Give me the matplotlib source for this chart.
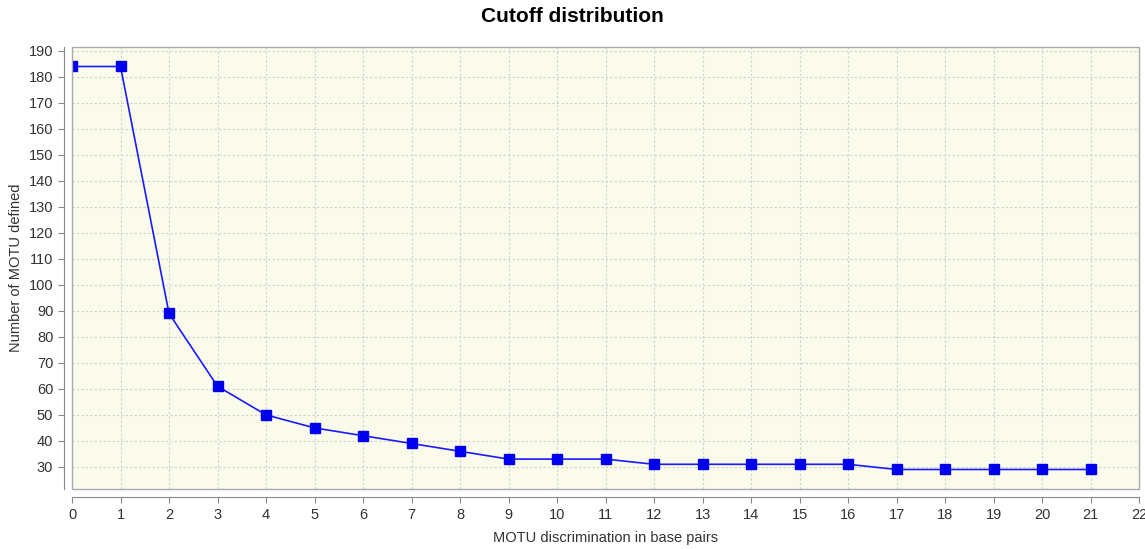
import matplotlib
matplotlib.use("Agg")
import matplotlib.pyplot as plt
from matplotlib.patches import Rectangle

plt.rcParams['font.family'] = ['Liberation Sans', 'DejaVu Sans']

cutoffs = list(range(22))
motu_counts = [184, 184, 89, 61, 50, 45, 42, 39, 36, 33, 33, 33,
               31, 31, 31, 31, 31, 29, 29, 29, 29, 29]
x_ticks = list(range(23))
y_ticks = list(range(30, 191, 10))

fig = plt.figure(figsize=(11.45, 5.49), dpi=100)
ax = fig.add_axes([0.0629, 0.1093, 0.9319, 0.8051])
ax.set_facecolor('#fbfbec')

ax.plot(cutoffs, motu_counts, color='#1a1aff', lw=1.2, marker='s',
        markersize=7, markerfacecolor='#0000ee', markeredgecolor='#0000ee', zorder=3)

ax.set_xlim(0, 22)
ax.set_ylim(21.5, 191.5)
ax.set_xticks(x_ticks)
ax.set_yticks(y_ticks)
ax.grid(True, color='#d0d0d0', linestyle=(0, (2, 2)), linewidth=0.8)

for s in ['top', 'right']:
    ax.spines[s].set_visible(False)
for s in ['left', 'bottom']:
    ax.spines[s].set_position(('outward', 6))
    ax.spines[s].set_color('#888888')
ax.add_patch(Rectangle((0, 0), 1, 1, transform=ax.transAxes, fill=False,
                       edgecolor='#aaaaaa', lw=1, clip_on=False, zorder=4))
ax.tick_params(colors='#888888', labelcolor='#333333', labelsize=10.5, length=4)

ax.set_xlabel('MOTU discrimination in base pairs', fontsize=10.5, color='#333333', labelpad=7)
ax.set_ylabel('Number of MOTU defined', fontsize=10.5, color='#333333')
fig.suptitle('Cutoff distribution', fontsize=15, fontweight='bold', y=0.988)

fig.savefig('out.png', dpi=100)
